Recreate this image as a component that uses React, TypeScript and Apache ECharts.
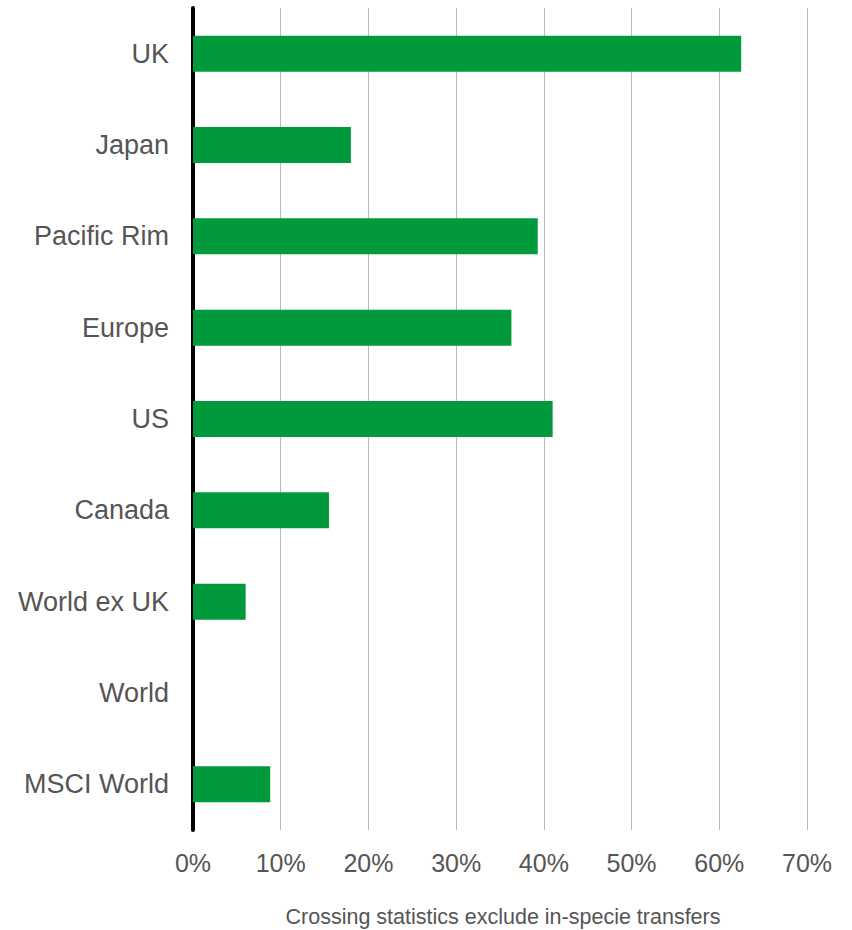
import React, { useEffect, useRef } from "react";
import * as echarts from "echarts";

const categories = ["UK", "Japan", "Pacific Rim", "Europe", "US", "Canada", "World ex UK", "World", "MSCI World"];
const values = [62.5, 18.0, 39.3, 36.3, 41.0, 15.5, 6.0, 0, 8.8];
const footnote = "Crossing statistics exclude in-specie transfers";

const FONT = "'Liberation Sans', Arial, Helvetica, sans-serif";

export default function App() {
  const ref = useRef<HTMLDivElement>(null);
  useEffect(() => {
    if (!ref.current) return;
    const chart = echarts.init(ref.current, undefined, { renderer: "svg" });
    chart.setOption({
      animation: false,
      grid: { left: 193, right: 45, top: 8, bottom: 100, containLabel: false },
      xAxis: {
        type: "value",
        min: 0,
        max: 70,
        interval: 10,
        axisLine: { show: false },
        axisTick: { show: false },
        axisLabel: {
          formatter: "{value}%",
          fontFamily: FONT,
          fontSize: 25,
          color: "#555555",
          margin: 20,
        },
        splitLine: { show: true, lineStyle: { color: "#bbbbbb", width: 1 } },
      },
      yAxis: {
        type: "category",
        data: categories,
        inverse: true,
        axisLine: { show: true, lineStyle: { color: "#000000", width: 4 } },
        axisTick: { show: false },
        axisLabel: {
          fontFamily: FONT,
          fontSize: 27,
          color: "#555555",
          margin: 24,
        },
        splitLine: { show: false },
      },
      series: [
        {
          type: "bar",
          data: values,
          barWidth: 36,
          itemStyle: { color: "#009a3d" },
        },
      ],
      graphic: [
        {
          type: "text",
          x: 503,
          y: 917,
          style: {
            text: footnote,
            fontFamily: FONT,
            fontSize: 21.5,
            fill: "#555555",
            textAlign: "center",
            textVerticalAlign: "middle",
          },
        },
      ],
    });
    return () => chart.dispose();
  }, []);
  return <div ref={ref} style={{ width: 852, height: 930, position: "absolute", left: 0, top: 0 }} />;
}
